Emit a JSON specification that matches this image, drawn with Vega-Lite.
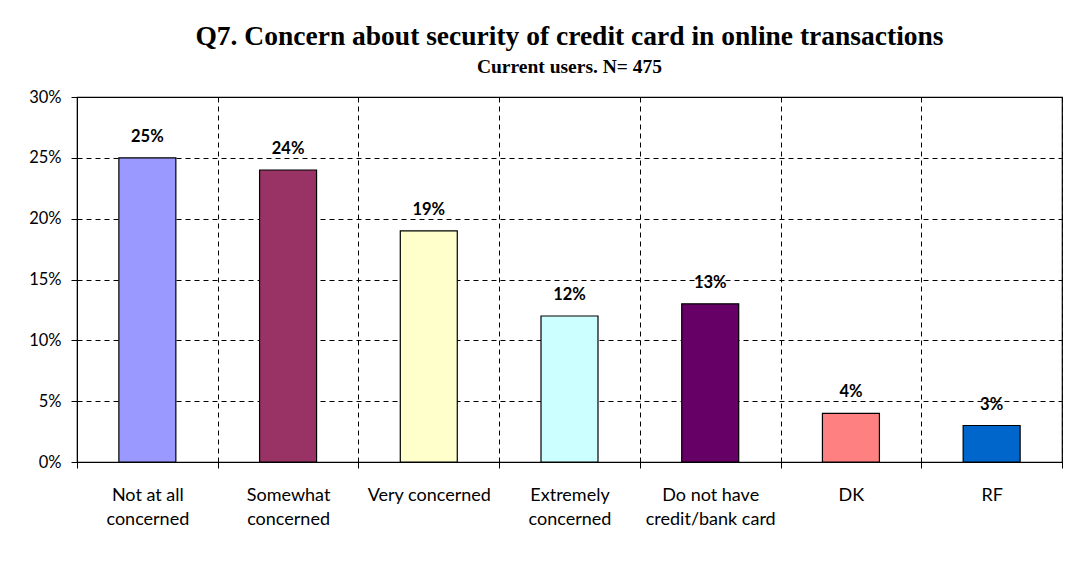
{
  "$schema": "https://vega.github.io/schema/vega-lite/v6.json",
  "autosize": {"type": "none"},
  "padding": {"left": 77, "top": 97, "right": 24, "bottom": 101},
  "width": 985,
  "height": 365,
  "background": "white",
  "title": {
    "text": "Q7. Concern about security of credit card in online transactions",
    "subtitle": "Current users. N= 475",
    "anchor": "middle",
    "font": "Liberation Serif",
    "fontSize": 27.5,
    "fontWeight": "bold",
    "color": "black",
    "subtitleFont": "Liberation Serif",
    "subtitleFontSize": 19.5,
    "subtitleFontWeight": "bold",
    "subtitleColor": "black",
    "subtitlePadding": 7,
    "offset": 13
  },
  "data": {
    "values": [
      {"answer": "Not at all concerned", "share": 0.25},
      {"answer": "Somewhat concerned", "share": 0.24},
      {"answer": "Very concerned", "share": 0.19},
      {"answer": "Extremely concerned", "share": 0.12},
      {"answer": "Do not have credit/bank card", "share": 0.13},
      {"answer": "DK", "share": 0.04},
      {"answer": "RF", "share": 0.03}
    ]
  },
  "encoding": {
    "x": {
      "field": "answer",
      "type": "nominal",
      "sort": null,
      "scale": {"paddingInner": 0, "paddingOuter": 0},
      "axis": {
        "title": null,
        "labelAngle": 0,
        "tickBand": "extent",
        "grid": true,
        "gridDash": [5, 4],
        "gridColor": "black",
        "gridOpacity": 1,
        "ticks": true,
        "tickSize": 6,
        "tickColor": "black",
        "domainColor": "black",
        "labelFont": "Lato",
        "labelFontSize": 18,
        "labelColor": "black",
        "labelPadding": 27,
        "labelLineHeight": 24,
        "labelBaseline": "middle",
        "labelExpr": "datum.label == 'Not at all concerned' ? ['Not at all', 'concerned'] : datum.label == 'Somewhat concerned' ? ['Somewhat', 'concerned'] : datum.label == 'Extremely concerned' ? ['Extremely', 'concerned'] : datum.label == 'Do not have credit/bank card' ? ['Do not have', 'credit/bank card'] : datum.label"
      }
    },
    "y": {
      "field": "share",
      "type": "quantitative",
      "scale": {"domain": [0, 0.3]},
      "axis": {
        "title": null,
        "format": ".0%",
        "values": [0, 0.05, 0.1, 0.15, 0.2, 0.25, 0.3],
        "grid": true,
        "gridDash": [5, 4],
        "gridColor": "black",
        "gridOpacity": 1,
        "tickSize": 6,
        "tickColor": "black",
        "domainColor": "black",
        "labelFont": "Lato",
        "labelFontSize": 16.5,
        "labelColor": "black",
        "labelPadding": 10
      }
    }
  },
  "layer": [
    {
      "mark": {"type": "bar", "width": {"band": 0.405}, "stroke": "black", "strokeWidth": 1.2},
      "encoding": {
        "color": {
          "field": "answer",
          "type": "nominal",
          "sort": null,
          "legend": null,
          "scale": {
            "domain": ["Not at all concerned", "Somewhat concerned", "Very concerned", "Extremely concerned", "Do not have credit/bank card", "DK", "RF"],
            "range": ["#9999FF", "#993366", "#FFFFCC", "#CCFFFF", "#660066", "#FF8080", "#0066CC"]
          }
        }
      }
    },
    {
      "mark": {"type": "text", "dy": -13, "font": "Lato", "fontSize": 16.5, "fontWeight": "bold", "color": "black", "baseline": "bottom"},
      "encoding": {
        "text": {"field": "share", "type": "quantitative", "format": ".0%"}
      }
    }
  ],
  "config": {
    "view": {"stroke": "black", "strokeWidth": 1.2}
  }
}
